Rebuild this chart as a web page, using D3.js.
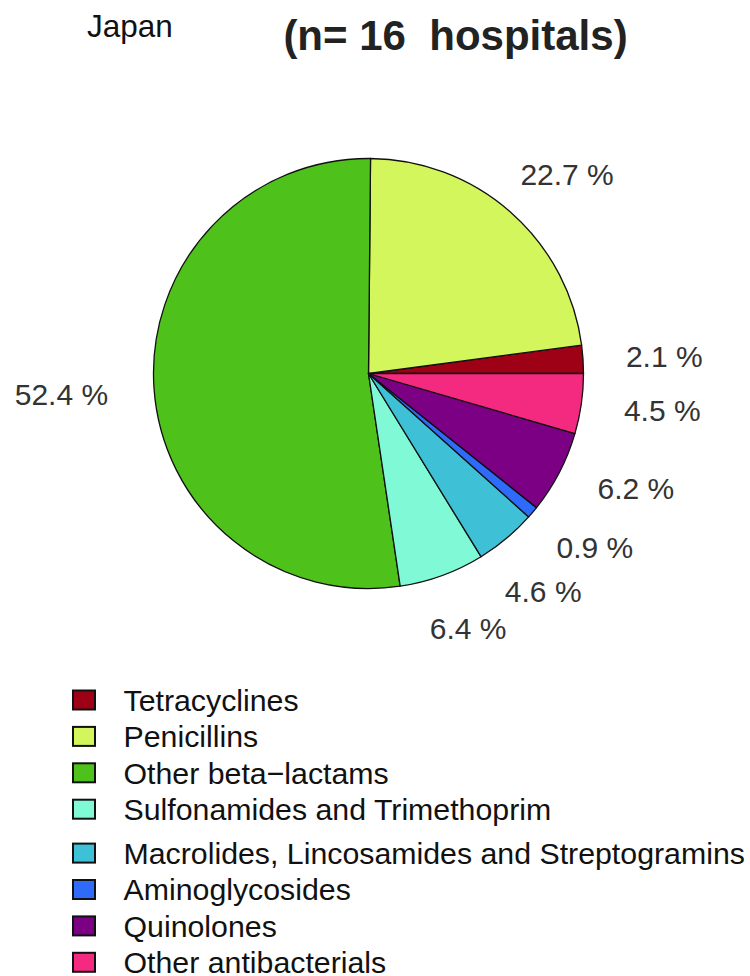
<!DOCTYPE html>
<html>
<head>
<meta charset="utf-8">
<script src="https://cdn.jsdelivr.net/npm/d3@7"></script>
<style>
  html, body { margin: 0; padding: 0; background: #fff; }
  svg { display: block; font-family: "Liberation Sans", Arial, sans-serif; }
  text { white-space: pre; }
</style>
</head>
<body>
<svg id="chart" width="750" height="976"></svg>
<script>
// Antibacterial use by class, share of total (%)
const classes = [
  "Tetracyclines",
  "Penicillins",
  "Other beta\u2212lactams",
  "Sulfonamides and Trimethoprim",
  "Macrolides, Lincosamides and Streptogramins",
  "Aminoglycosides",
  "Quinolones",
  "Other antibacterials"
];
const shares = [2.1, 22.7, 52.4, 6.4, 4.6, 0.9, 6.2, 4.5];
const colors = ["#9E0016", "#D3F65C", "#4EC21B", "#80FAD6", "#3EC0D6", "#2F6BFA", "#7C0083", "#F42A80"];

const country = "Japan";
const subtitle = "(n= 16  hospitals)";

// small hand adjustments to keep the percentage labels clear of each other
const labelNudge = [[0, 0], [-19, -6], [-3, 3], [-27, 12], [-29, 20], [-9, 7], [0, -4], [0, 0]];

const svg = d3.select("#chart");

svg.append("text")
  .attr("x", 87).attr("y", 37)
  .attr("font-size", 31.5).attr("fill", "#111")
  .text(country);

svg.append("text")
  .attr("x", 455.5).attr("y", 50)
  .attr("text-anchor", "middle")
  .attr("font-size", 42).attr("font-weight", "bold").attr("fill", "#222")
  .text(subtitle);

// Pie: starts at 3 o'clock and runs counter-clockwise
const cx = 368.5, cy = 373.5, r = 215;
const pie = d3.pie().sort(null)
  .startAngle(Math.PI / 2)
  .endAngle(Math.PI / 2 - 2 * Math.PI)
  .value(d => d);
const arcs = pie(shares);
const arc = d3.arc().innerRadius(0).outerRadius(r);

const g = svg.append("g").attr("transform", `translate(${cx},${cy})`);

g.selectAll("path.slice")
  .data(arcs)
  .join("path")
  .attr("class", "slice")
  .attr("d", arc)
  .attr("fill", (d, i) => colors[i])
  .attr("stroke", "#111")
  .attr("stroke-width", 1.3)
  .attr("stroke-linejoin", "round");

// Percentage labels at 1.2 r, aligned away from the pie
const labelR = 1.2 * r;
g.selectAll("text.pct")
  .data(arcs)
  .join("text")
  .attr("class", "pct")
  .each(function (d, i) {
    const a = (d.startAngle + d.endAngle) / 2;
    const x = Math.sin(a) * labelR + labelNudge[i][0];
    const y = -Math.cos(a) * labelR + labelNudge[i][1];
    d3.select(this)
      .attr("x", x).attr("y", y)
      .attr("dy", "0.36em")
      .attr("text-anchor", Math.sin(a) < 0 ? "end" : "start");
  })
  .attr("font-size", 30).attr("fill", "#333")
  .text((d, i) => `${shares[i]} %`);

// Legend
const legendX = 72, legendY0 = 700, rowH = 36.4, groupGap = 7.5;
const legend = svg.append("g");
const rows = legend.selectAll("g.row")
  .data(classes)
  .join("g")
  .attr("class", "row")
  .attr("transform", (d, i) => `translate(${legendX},${legendY0 + i * rowH + (i >= 4 ? groupGap : 0)})`);

rows.append("rect")
  .attr("x", 1).attr("y", -9.5)
  .attr("width", 22).attr("height", 19)
  .attr("fill", (d, i) => colors[i])
  .attr("stroke", "#111").attr("stroke-width", 2);

rows.append("text")
  .attr("x", 51.5).attr("y", 0).attr("dy", "0.36em")
  .attr("font-size", 30.3).attr("fill", "#111")
  .text(d => d);
</script>
</body>
</html>
